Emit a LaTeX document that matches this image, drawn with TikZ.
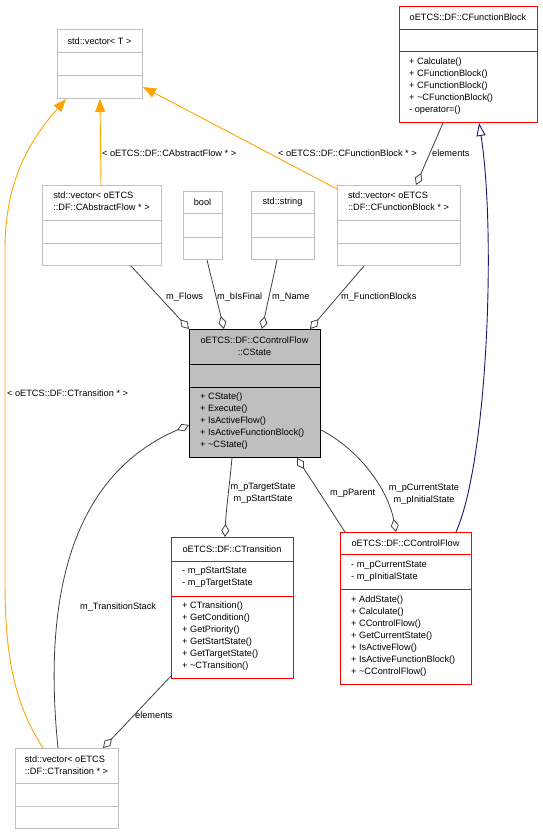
\documentclass[tikz,border=0pt]{standalone}
\usepackage{fontspec}
\setmainfont{Liberation Sans}
\usetikzlibrary{arrows.meta,calc}
\definecolor{boxgray}{HTML}{BFBFBF}
\definecolor{edgegray}{HTML}{404040}
\definecolor{orangeedge}{HTML}{FFA500}
\definecolor{navyedge}{HTML}{191970}
\tikzset{
  every node/.style={font=\fontsize{9.2}{12}\selectfont},
  graybox/.style={draw=boxgray, fill=white, line width=1pt, anchor=north west, inner sep=0pt},
  redbox/.style={draw=red, fill=white, line width=1pt, anchor=north west, inner sep=0pt},
  mainbox/.style={draw=black, fill=boxgray, line width=1pt, anchor=north west, inner sep=0pt},
  grayline/.style={draw=boxgray, line width=1pt},
  redline/.style={draw=red, line width=1pt},
  blackline/.style={draw=black, line width=1pt},
  ttl/.style={inner sep=0pt, align=center},
  ttlleft/.style={inner sep=0pt, align=left},
  memb/.style={inner sep=0pt, align=left, anchor=west},
  lbl/.style={inner sep=0pt, anchor=west},
  lblc/.style={inner sep=0pt, align=center},
  useedge/.style={draw=edgegray, line width=0.8pt, -{Diamond[open,length=13pt,width=8pt,line width=0.8pt]}},
  tmpledge/.style={draw=orangeedge, line width=0.9pt, -{Triangle[length=13pt,width=10pt]}},
  inhedge/.style={draw=navyedge, line width=0.9pt, -{Triangle[open,length=13pt,width=9pt,line width=0.9pt]}},
}
\newcommand{\sepline}[3]{\draw[#1] ($(#2.north west)+(0,#3)$) -- ($(#2.north east)+(0,#3)$);}
\begin{document}
\begin{tikzpicture}[x=1pt,y=-1pt]
\useasboundingbox (0,0) rectangle (543,835);

% ---------- boxes ----------
\node[graybox, minimum width=85pt, minimum height=69pt] (vecT) at (57,29) {};
\sepline{grayline}{vecT}{23} \sepline{grayline}{vecT}{46}
\node[ttl] (vecTt) at (99.5,41) {std::vector\textless{} T \textgreater{}};

\node[graybox, minimum width=119pt, minimum height=80pt] (vecAF) at (42,185) {};
\sepline{grayline}{vecAF}{35} \sepline{grayline}{vecAF}{58}
\node[ttlleft] (vecAFt) at (101.5,201) {std::vector\textless{} oETCS\\::DF::CAbstractFlow * \textgreater{}};

\node[graybox, minimum width=39pt, minimum height=68pt] (bool) at (183,191) {};
\sepline{grayline}{bool}{22} \sepline{grayline}{bool}{46}
\node[ttl] (boolt) at (202.5,202) {bool};

\node[graybox, minimum width=63pt, minimum height=68pt] (str) at (251,191) {};
\sepline{grayline}{str}{22} \sepline{grayline}{str}{46}
\node[ttl] (strt) at (282.5,202) {std::string};

\node[graybox, minimum width=123pt, minimum height=80pt] (vecFB) at (337,185) {};
\sepline{grayline}{vecFB}{35} \sepline{grayline}{vecFB}{58}
\node[ttlleft] (vecFBt) at (398.5,201) {std::vector\textless{} oETCS\\::DF::CFunctionBlock * \textgreater{}};

\node[redbox, minimum width=138pt, minimum height=116pt] (cfb) at (399,6) {};
\sepline{redline}{cfb}{23} \sepline{redline}{cfb}{45}
\node[ttl] (cfbt) at (468,17.5) {oETCS::DF::CFunctionBlock};
\node[memb] (cfbm) at (409,86) {+ Calculate()\\+ CFunctionBlock()\\+ CFunctionBlock()\\+ \textasciitilde{}CFunctionBlock()\\- operator=()};

\node[mainbox, minimum width=131pt, minimum height=128pt] (cstate) at (189,329) {};
\sepline{blackline}{cstate}{35} \sepline{blackline}{cstate}{58}
\node[ttl] (cstatet) at (254.5,346) {oETCS::DF::CControlFlow\\::CState};
\node[memb] (cstatem) at (200,421) {+ CState()\\+ Execute()\\+ IsActiveFlow()\\+ IsActiveFunctionBlock()\\+ \textasciitilde{}CState()};

\node[redbox, minimum width=122pt, minimum height=141pt] (ctr) at (171,537) {};
\sepline{redline}{ctr}{24} \sepline{redline}{ctr}{59}
\node[ttl] (ctrt) at (232,549) {oETCS::DF::CTransition};
\node[memb] (ctra) at (182,577) {- m\_pStartState\\- m\_pTargetState};
\node[memb] (ctrm) at (182,636) {+ CTransition()\\+ GetCondition()\\+ GetPriority()\\+ GetStartState()\\+ GetTargetState()\\+ \textasciitilde{}CTransition()};

\node[redbox, minimum width=131pt, minimum height=152pt] (ccf) at (340,532) {};
\sepline{redline}{ccf}{22} \sepline{redline}{ccf}{57}
\node[ttl] (ccft) at (405.5,543) {oETCS::DF::CControlFlow};
\node[memb] (ccfa) at (351,571) {- m\_pCurrentState\\- m\_pInitialState};
\node[memb] (ccfm) at (351,636) {+ AddState()\\+ Calculate()\\+ CControlFlow()\\+ GetCurrentState()\\+ IsActiveFlow()\\+ IsActiveFunctionBlock()\\+ \textasciitilde{}CControlFlow()};

\node[graybox, minimum width=103pt, minimum height=80pt] (vecTr) at (15,748) {};
\sepline{grayline}{vecTr}{35} \sepline{grayline}{vecTr}{58}
\node[ttlleft] (vecTrt) at (66.5,765) {std::vector\textless{} oETCS\\::DF::CTransition * \textgreater{}};

% ---------- template edges (orange) ----------
\draw[tmpledge] ($(vecAF.north west)+(59,0)$) -- ($(vecT.south west)+(43,0)$);
\draw[tmpledge] ($(vecFB.north west)+(0,4)$) -- ($(vecT.south east)+(0,-12)$);
\draw[tmpledge] ($(vecTr.north west)+(28,0)$) .. controls (12,700) and (5,650) .. (5,580)
  -- (5,250) .. controls (5,180) and (30,140) .. ($(vecT.south west)+(9,0)$);

\node[lbl] (lAF) at (102,153) {\textless{} oETCS::DF::CAbstractFlow * \textgreater{}};
\node[lbl] (lFB) at (278,153) {\textless{} oETCS::DF::CFunctionBlock * \textgreater{}};
\node[lbl] (lTr) at (7,393) {\textless{} oETCS::DF::CTransition * \textgreater{}};

% ---------- usage edges ----------
\draw[useedge] ($(vecAF.south west)+(89,0)$) -- (cstate.north west);
\draw[useedge] ($(bool.south west)+(24,0)$) -- ($(cstate.north west)+(35,0)$);
\draw[useedge] ($(str.south west)+(26,0)$) -- ($(cstate.north west)+(73,0)$);
\draw[useedge] ($(vecFB.south west)+(27,0)$) -- ($(cstate.north west)+(121,0)$);
\draw[useedge] ($(cfb.south west)+(44,0)$) -- ($(vecFB.north west)+(79,0)$);
\draw[useedge] ($(cstate.south west)+(43,0)$) .. controls (229,490) and (226,510) .. ($(ctr.north west)+(54,0)$);
\draw[useedge] ($(ccf.north west)+(5,0)$) -- ($(cstate.south west)+(108,0)$);
\draw[useedge] ($(cstate.north east)+(0,101)$) .. controls (360,450) and (388,490) .. ($(ccf.north west)+(56,0)$);
\draw[useedge] ($(ctr.south west)+(0,-3)$) -- ($(vecTr.north west)+(88,0)$);
\draw[useedge] ($(vecTr.north west)+(43,0)$) .. controls (45,620) and (60,480) .. ($(cstate.north west)+(0,96)$);

\node[lbl] (lFlows) at (166,297) {m\_Flows};
\node[lbl] (lFinal) at (217,297) {m\_bIsFinal};
\node[lbl] (lName) at (272,297) {m\_Name};
\node[lbl] (lFBs) at (341,297) {m\_FunctionBlocks};
\node[lbl] (lEl1) at (432,153) {elements};
\node[lblc] (lTS) at (263,493) {m\_pTargetState\\m\_pStartState};
\node[lbl] (lPar) at (330,493) {m\_pParent};
\node[lblc] (lCS) at (424,494) {m\_pCurrentState\\m\_pInitialState};
\node[lbl] (lStack) at (80,607) {m\_TransitionStack};
\node[lbl] (lEl2) at (135,715) {elements};

% ---------- inheritance ----------
\draw[inhedge] ($(ccf.north west)+(116,0)$) .. controls (488,460) and (496,230) .. ($(cfb.south west)+(80,0)$);
\end{tikzpicture}
\end{document}
